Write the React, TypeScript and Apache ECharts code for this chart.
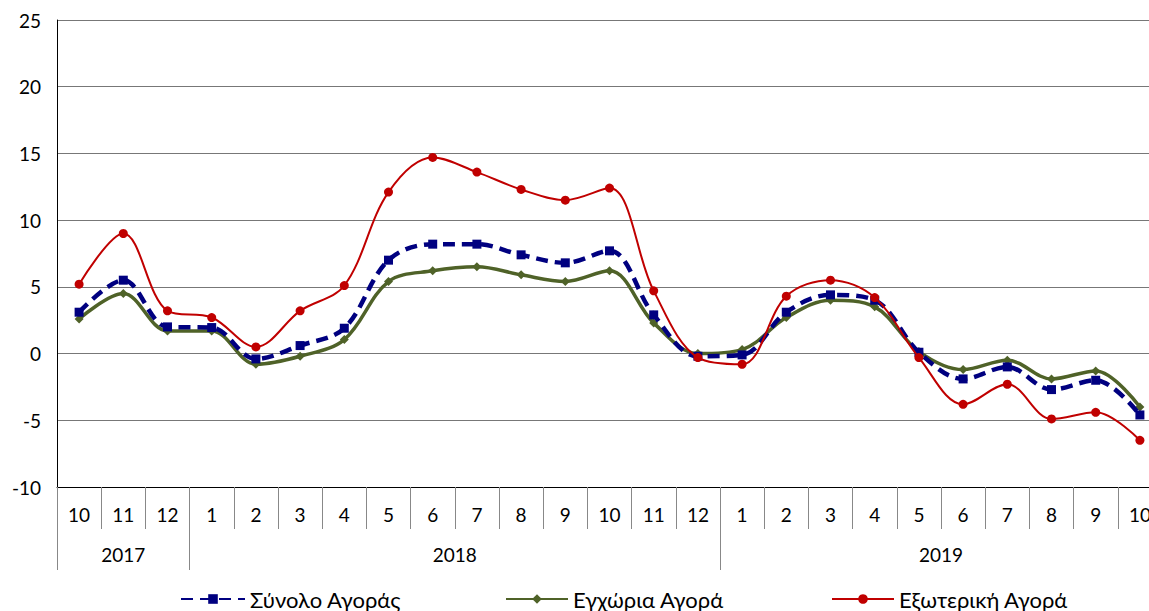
import React, { useEffect, useRef } from "react";
import * as echarts from "echarts";

const months = ["10", "11", "12", "1", "2", "3", "4", "5", "6", "7", "8", "9", "10", "11", "12", "1", "2", "3", "4", "5", "6", "7", "8", "9", "10"];
const yearLabels = ["2017", "2018", "2019"];
const yearStarts = [0, 3, 15, 25];

const totalMarket = [3.1, 5.5, 2.0, 1.95, -0.4, 0.6, 1.9, 7.0, 8.2, 8.2, 7.4, 6.8, 7.7, 2.9, -0.2, -0.1, 3.1, 4.4, 4.0, 0.1, -1.9, -1.0, -2.7, -2.0, -4.6];
const domesticMarket = [2.6, 4.5, 1.7, 1.7, -0.8, -0.2, 1.05, 5.4, 6.2, 6.5, 5.9, 5.4, 6.2, 2.3, 0.0, 0.3, 2.7, 4.0, 3.5, 0.15, -1.2, -0.5, -1.9, -1.3, -4.0];
const externalMarket = [5.2, 9.0, 3.2, 2.7, 0.5, 3.2, 5.1, 12.1, 14.7, 13.6, 12.3, 11.5, 12.4, 4.7, -0.3, -0.8, 4.3, 5.5, 4.2, -0.3, -3.8, -2.3, -4.9, -4.4, -6.5];

const seriesNames = ["Σύνολο Αγοράς", "Εγχώρια Αγορά", "Εξωτερική Αγορά"];

const FONT = "Lato, 'Open Sans', sans-serif";

export default function App() {
  const ref = useRef<HTMLDivElement>(null);
  useEffect(() => {
    if (!ref.current) return;
    const chart = echarts.init(ref.current, null, { renderer: "svg" });
    const yearCenters = yearLabels.map((_, i) => (yearStarts[i] + yearStarts[i + 1]) / 2);
    const legendText = { fontSize: 22, color: "#000", fontFamily: FONT };
    chart.setOption({
      animation: false,
      textStyle: { fontFamily: FONT },
      grid: { left: 57, top: 20, width: 1105, height: 467, containLabel: false },
      legend: [
        { data: [seriesNames[0]], left: 175, top: 583, itemWidth: 64, itemHeight: 12, itemGap: 5, textStyle: legendText },
        { data: [seriesNames[1]], left: 500, top: 583, itemWidth: 62, itemHeight: 12, itemGap: 5, textStyle: legendText },
        { data: [seriesNames[2]], left: 826, top: 583, itemWidth: 62, itemHeight: 12, itemGap: 5, textStyle: legendText },
      ],
      xAxis: [
        {
          type: "category",
          data: months,
          boundaryGap: true,
          axisLine: { onZero: false, lineStyle: { color: "#000", width: 1 } },
          axisTick: { show: true, interval: 0, length: 42, lineStyle: { color: "#888" } },
          axisLabel: { interval: 0, fontSize: 19, color: "#000", margin: 18, fontFamily: FONT },
          splitLine: { show: false },
        },
        {
          type: "value",
          min: 0,
          max: 25,
          position: "bottom",
          offset: 42,
          axisLine: { show: false, onZero: false },
          axisTick: { show: true, customValues: yearStarts, length: 41, lineStyle: { color: "#888" } },
          axisLabel: {
            customValues: yearCenters,
            fontSize: 19,
            color: "#000",
            margin: 16,
            fontFamily: FONT,
            formatter: (v: number) => {
              const idx = yearCenters.findIndex((c) => Math.abs(c - v) < 0.01);
              return idx >= 0 ? yearLabels[idx] : "";
            },
          },
          splitLine: { show: false },
        },
      ],
      yAxis: {
        type: "value",
        min: -10,
        max: 25,
        interval: 5,
        axisLine: { show: true, onZero: false, lineStyle: { color: "#000" } },
        axisTick: { show: false },
        axisLabel: { fontSize: 19, color: "#000", margin: 16, fontFamily: FONT },
        splitLine: { lineStyle: { color: "#777", width: 1 } },
      },
      series: [
        {
          name: seriesNames[0],
          type: "line",
          data: totalMarket,
          smooth: 0.35,
          symbol: "rect",
          symbolSize: 9,
          z: 3,
          itemStyle: { color: "#000080" },
          lineStyle: { color: "#000080", width: 4.5, type: [12, 7] },
        },
        {
          name: seriesNames[1],
          type: "line",
          data: domesticMarket,
          smooth: 0.35,
          symbol: "diamond",
          symbolSize: 9,
          z: 2,
          itemStyle: { color: "#4F6228" },
          lineStyle: { color: "#4F6228", width: 3.5 },
        },
        {
          name: seriesNames[2],
          type: "line",
          data: externalMarket,
          smooth: 0.35,
          symbol: "circle",
          symbolSize: 9,
          z: 4,
          itemStyle: { color: "#C00000" },
          lineStyle: { color: "#C00000", width: 2 },
        },
      ],
    });
    return () => chart.dispose();
  }, []);
  return (
    <div style={{ position: "fixed", left: 0, top: 0, width: 1149, height: 611, overflow: "hidden", background: "#fff" }}>
      <div ref={ref} style={{ width: 1200, height: 611 }} />
    </div>
  );
}
